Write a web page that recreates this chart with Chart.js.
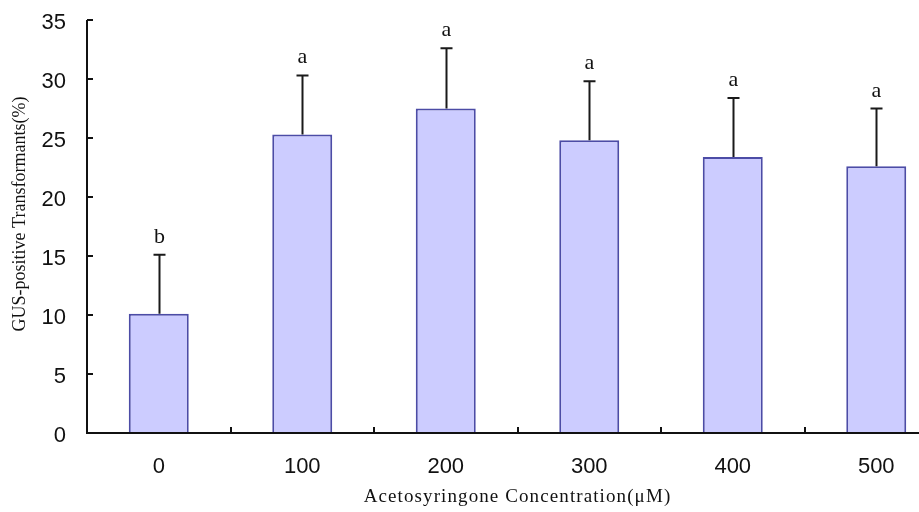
<!DOCTYPE html>
<html>
<head>
<meta charset="utf-8">
<script src="https://cdn.jsdelivr.net/npm/chart.js@4/dist/chart.umd.min.js"></script>
<style>
  html, body { margin: 0; padding: 0; background: #fff; overflow: hidden; }
  #wrap { position: relative; width: 950px; height: 512px; }
</style>
</head>
<body>
<div id="wrap"><canvas id="c"></canvas></div>
<script>
// Acetosyringone concentrations (µM)
const categories = ['0', '100', '200', '300', '400', '500'];
// Mean GUS-positive transformants (%)
const means = [10.1, 25.3, 27.5, 24.8, 23.4, 22.6];
// Standard deviation shown by the error bars
const errors = [5.0, 5.0, 5.1, 5.0, 5.0, 4.9];
// Significance letters
const letters = ['b', 'a', 'a', 'a', 'a', 'a'];
// Y axis ticks
const yTicks = [0, 5, 10, 15, 20, 25, 30, 35];

const xTitle = 'Acetosyringone Concentration(\u03bcM)';
const yTitle = 'GUS-positive Transformants(%)';

const decorations = {
  id: 'decorations',
  afterDatasetsDraw(chart) {
    const { ctx, chartArea, scales } = chart;
    const x = scales.x, y = scales.y;
    const meta = chart.getDatasetMeta(0);
    ctx.save();

    // error bars with caps
    ctx.strokeStyle = '#1a1a1a';
    ctx.lineWidth = 2;
    meta.data.forEach((bar, i) => {
      const top = y.getPixelForValue(means[i] + errors[i]);
      const base = y.getPixelForValue(means[i]);
      const cx = Math.round(bar.x) + 0.5;
      ctx.beginPath();
      ctx.moveTo(cx, base);
      ctx.lineTo(cx, top);
      ctx.moveTo(cx - 6, top);
      ctx.lineTo(cx + 6, top);
      ctx.stroke();

      // significance letter
      ctx.fillStyle = '#111';
      ctx.font = '22px "Liberation Serif", "Times New Roman", serif';
      ctx.textAlign = 'center';
      ctx.textBaseline = 'alphabetic';
      ctx.fillText(letters[i], cx, top - 12);
    });

    // axis lines
    ctx.strokeStyle = '#111';
    ctx.lineWidth = 2;
    ctx.beginPath();
    ctx.moveTo(chartArea.left, chartArea.top);
    ctx.lineTo(chartArea.left, chartArea.bottom);
    ctx.lineTo(chartArea.right, chartArea.bottom);
    ctx.stroke();

    // inward ticks on y axis
    ctx.beginPath();
    yTicks.forEach(v => {
      const py = Math.round(y.getPixelForValue(v));
      ctx.moveTo(chartArea.left, py);
      ctx.lineTo(chartArea.left + 6, py);
    });
    // inward ticks on x axis at category boundaries
    for (let i = 1; i < categories.length; i++) {
      const px = Math.round((x.getPixelForValue(i - 1) + x.getPixelForValue(i)) / 2);
      ctx.moveTo(px, chartArea.bottom);
      ctx.lineTo(px, chartArea.bottom - 6);
    }
    ctx.stroke();

    // axis titles
    ctx.fillStyle = '#111';
    ctx.textAlign = 'center';
    ctx.textBaseline = 'middle';
    ctx.font = '19px "Liberation Serif", "Times New Roman", serif';
    ctx.letterSpacing = '1.1px';
    ctx.fillText(xTitle, (chartArea.left + chartArea.right) / 2, 497);

    ctx.letterSpacing = '0px';
    ctx.font = '18px "Liberation Serif", "Times New Roman", serif';
    ctx.translate(20, 214);
    ctx.rotate(-Math.PI / 2);
    ctx.fillText(yTitle, 0, 0);
    ctx.restore();
  }
};

new Chart(document.getElementById('c'), {
  type: 'bar',
  data: {
    labels: categories,
    datasets: [{
      data: means,
      backgroundColor: '#ccccff',
      borderColor: '#4c4ca6',
      borderWidth: 2,
      categoryPercentage: 1,
      barPercentage: 0.418
    }]
  },
  options: {
    responsive: true,
    maintainAspectRatio: false,
    animation: false,
    events: [],
    layout: { padding: { top: 20, right: 2, left: 0, bottom: 0 } },
    plugins: {
      legend: { display: false },
      tooltip: { enabled: false },
      title: { display: false }
    },
    scales: {
      x: {
        grid: { display: false, drawTicks: false },
        border: { display: false },
        ticks: {
          color: '#111',
          padding: 21,
          maxRotation: 0,
          font: { family: '"Liberation Sans", Arial, sans-serif', size: 22 }
        },
        afterFit(scale) {
          scale.height = 79;
          scale.paddingTop = 0; scale.paddingBottom = 0;
        }
      },
      y: {
        min: 0,
        max: 35,
        grid: { display: false, drawTicks: false },
        border: { display: false },
        afterBuildTicks(scale) { scale.ticks = yTicks.map(v => ({ value: v })); },
        ticks: {
          color: '#111',
          padding: 21,
          labelOffset: 3,
          font: { family: '"Liberation Sans", Arial, sans-serif', size: 22 }
        },
        afterFit(scale) {
          scale.width = 87;
          scale.paddingTop = 0; scale.paddingBottom = 0;
        }
      }
    }
  },
  plugins: [decorations]
});
</script>
</body>
</html>
